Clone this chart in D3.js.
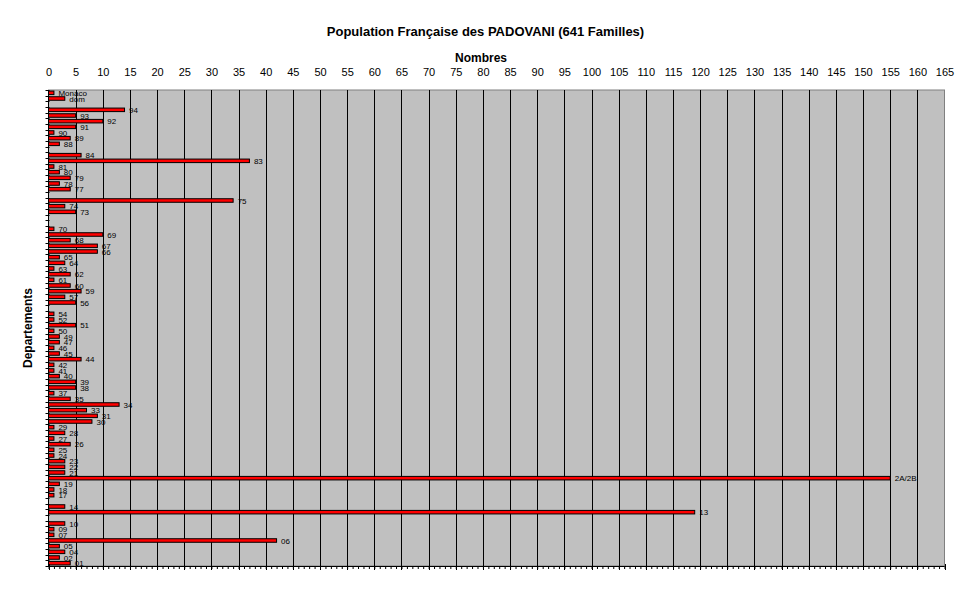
<!DOCTYPE html>
<html>
<head>
<meta charset="utf-8">
<script src="https://cdn.jsdelivr.net/npm/d3@7"></script>
<style>
  html, body { margin: 0; padding: 0; background: #fff; }
  svg { display: block; font-family: "Liberation Sans", Arial, sans-serif; }
</style>
</head>
<body>
<svg id="chart" width="970" height="604"></svg>
<script>
// Categories (top to bottom); blank slots carry a value of 0
const categories = ["Monaco","dom","95","94","93","92","91","90","89","88","87","84","83","81","80","79","78","77","76","75","74","73","72","71","70","69","68","67","66","65","64","63","62","61","60","59","57","56","55","54","52","51","50","49","47","46","45","44","42","41","40","39","38","37","35","34","33","31","30","29","28","27","26","25","24","23","22","21","2A/2B","19","18","17","15","14","13","11","10","09","07","06","05","04","02","01"];
const values = [1,3,0,14,5,10,5,1,4,2,0,6,37,1,2,4,2,4,0,34,3,5,0,0,1,10,4,9,9,2,3,1,4,1,4,6,3,5,0,1,1,5,1,2,2,1,2,6,1,1,2,5,5,1,4,13,7,9,8,1,3,1,4,1,1,3,3,3,155,2,1,1,0,3,119,0,3,1,1,42,2,3,2,4];
const xTicks = d3.range(0, 166, 5);
const titleText = "Population Française des PADOVANI (641 Familles)";
const xTitle = "Nombres";
const yTitle = "Departements";

const data = categories.map((c, i) => ({cat: c, val: values[i]}));

const svg = d3.select("#chart");
const pLeft = 48.5, pRight = 944.5, pTop = 90, pBottom = 566;

const x = d3.scaleLinear().domain([0, 165]).range([pLeft, pRight]);
const y = d3.scaleBand().domain(categories).range([pTop, pBottom]).paddingInner(0.2).paddingOuter(0.1);

// plot background
svg.append("rect")
  .attr("x", pLeft).attr("y", pTop)
  .attr("width", pRight - pLeft).attr("height", pBottom - pTop)
  .attr("fill", "#C0C0C0").attr("stroke", "#808080").attr("stroke-width", 1);

// gridlines
svg.append("g").selectAll("line")
  .data(xTicks.filter(t => t > 0 && t < 165))
  .join("line")
  .attr("x1", d => Math.round(x(d)) + 0.5).attr("x2", d => Math.round(x(d)) + 0.5)
  .attr("y1", pTop).attr("y2", pBottom)
  .attr("stroke", "#000").attr("stroke-width", 1);

// bars
svg.append("g").selectAll("rect")
  .data(data.filter(d => d.val > 0))
  .join("rect")
  .attr("x", x(0))
  .attr("y", d => y(d.cat) + 0.5)
  .attr("width", d => x(d.val) - x(0))
  .attr("height", y.bandwidth() - 1)
  .attr("fill", "#FF0000")
  .attr("stroke", "#000").attr("stroke-width", 1);

// data labels
svg.append("g").selectAll("text")
  .data(data.filter(d => d.val > 0))
  .join("text")
  .attr("x", d => x(d.val) + 4.5)
  .attr("y", d => y(d.cat) + y.bandwidth() / 2 + 3)
  .attr("font-size", 8)
  .attr("fill", "#000")
  .text(d => d.cat);

// top axis labels
const axTop = svg.append("g")
  .attr("transform", `translate(0,${pTop})`)
  .call(d3.axisTop(x).tickValues(xTicks).tickSize(0).tickPadding(14).tickFormat(d3.format("d")));
axTop.select(".domain").remove();
axTop.selectAll("text").attr("font-size", 11).attr("font-family", "Liberation Sans, Arial, sans-serif").attr("fill", "#000");

// bottom axis: minor ticks every unit
const axBot = svg.append("g")
  .attr("transform", `translate(0,${pBottom})`)
  .call(d3.axisBottom(x).tickValues(d3.range(0, 166, 1)).tickSize(3).tickFormat(""));
axBot.select(".domain").attr("d", `M${pLeft},0.5H${pRight}`).attr("stroke", "#000");
axBot.selectAll(".tick line").attr("stroke", "#000");
// major ticks crossing the axis
svg.append("g").selectAll("line")
  .data(xTicks)
  .join("line")
  .attr("x1", d => Math.round(x(d)) + 0.5).attr("x2", d => Math.round(x(d)) + 0.5)
  .attr("y1", pBottom - 2).attr("y2", pBottom + 4)
  .attr("stroke", "#000");

// left axis with ticks at category boundaries
const bounds = d3.range(categories.length + 1).map(i => pTop + i * (pBottom - pTop) / categories.length);
svg.append("line")
  .attr("x1", pLeft).attr("x2", pLeft).attr("y1", pTop).attr("y2", pBottom + 1)
  .attr("stroke", "#000");
svg.append("g").selectAll("line")
  .data(bounds)
  .join("line")
  .attr("x1", pLeft - 3).attr("x2", pLeft + 1)
  .attr("y1", d => Math.round(d) + 0.5).attr("y2", d => Math.round(d) + 0.5)
  .attr("stroke", "#000");

// titles
svg.append("text")
  .attr("x", 485.5).attr("y", 35.5)
  .attr("text-anchor", "middle")
  .attr("font-size", 13).attr("font-weight", "bold")
  .text(titleText);
svg.append("text")
  .attr("x", 481).attr("y", 62)
  .attr("text-anchor", "middle")
  .attr("font-size", 12).attr("font-weight", "bold")
  .text(xTitle);
svg.append("text")
  .attr("transform", "translate(32,328) rotate(-90)")
  .attr("text-anchor", "middle")
  .attr("font-size", 12).attr("font-weight", "bold")
  .text(yTitle);
</script>
</body>
</html>
